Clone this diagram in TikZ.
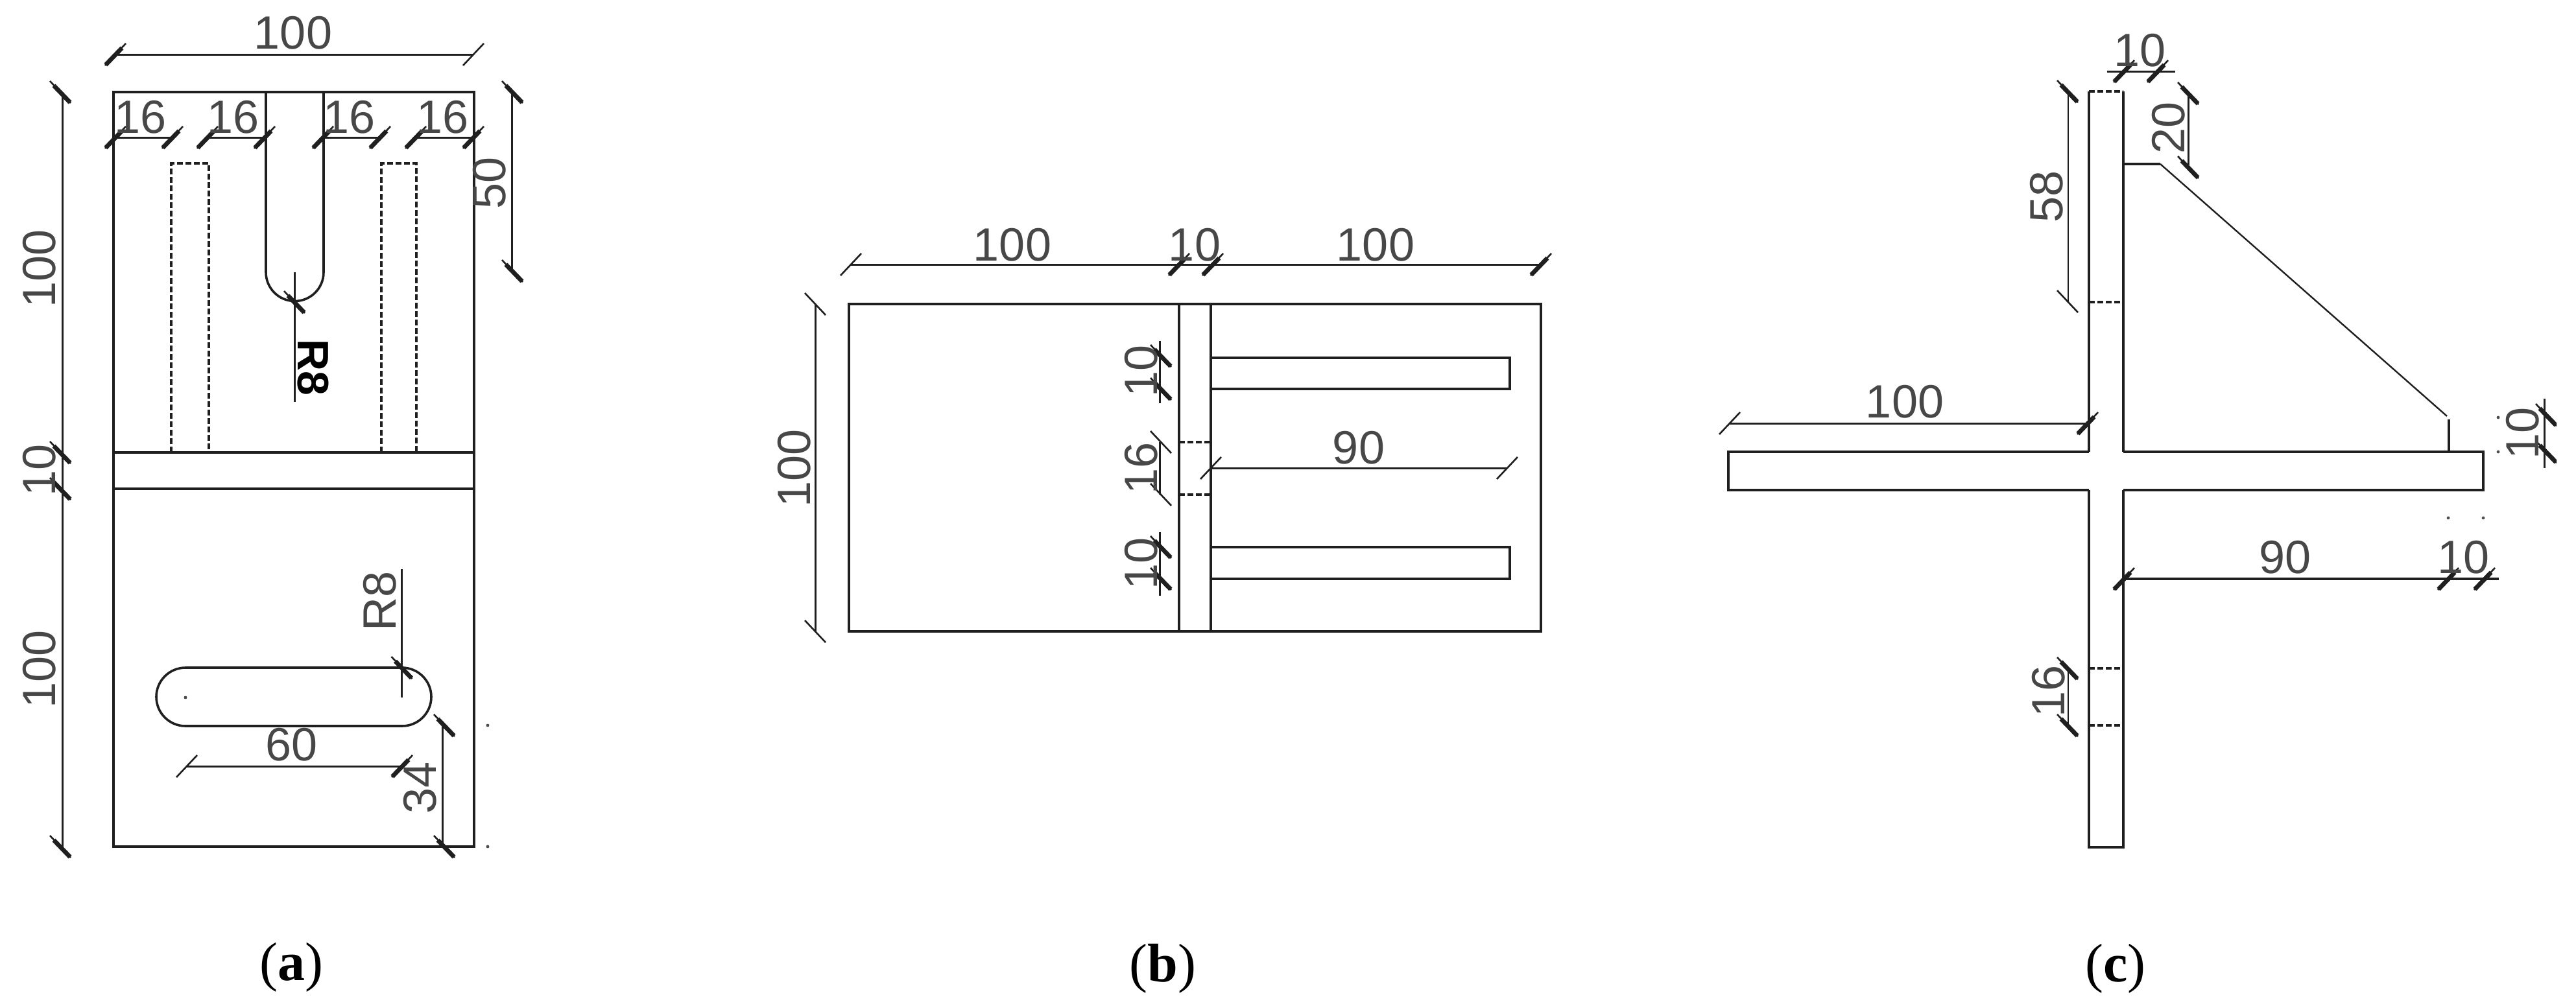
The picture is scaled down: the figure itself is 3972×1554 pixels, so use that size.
\documentclass[tikz,border=0pt]{standalone}
\usepackage{fontspec}
\setmainfont{Liberation Sans}
\newfontfamily\capfont{Liberation Serif}
\tikzset{
  obj/.style={line width=1.8pt,black!88},
  thinobj/.style={line width=1.2pt,black!88},
  midobj/.style={line width=1.6pt,black!88},
  hid/.style={line width=1.6pt,black!88,dash pattern=on 4.5pt off 2pt},
  dimln/.style={line width=1.5pt,black!88},
  tkthin/.style={line width=1.3pt,black!88},
  tkthick/.style={line width=3.4pt,black!88},
  dimtxt/.style={font=\fontsize{36}{36}\selectfont,text=black!72,inner sep=0pt},
  dimvert/.style={dimtxt,rotate=90},
  capt/.style={font=\capfont\fontsize{42}{42}\selectfont,inner sep=0pt}
}
% slash ticks for horizontal dims, backslash ticks for vertical dims; heavy ticks have a thin full stroke and a thick core
\newcommand{\tkh}[2]{\draw[tkthin] (#1-16,#2+17) -- (#1+16,#2-17); \draw[tkthick] (#1-15,#2+16) -- (#1+10,#2-10);}
\newcommand{\tkv}[2]{\draw[tkthin] (#1-16,#2-17) -- (#1+16,#2+17); \draw[tkthick] (#1-10,#2-10) -- (#1+15,#2+16);}
\newcommand{\tkht}[2]{\draw[tkthin] (#1-16,#2+17) -- (#1+16,#2-17);}
\newcommand{\tkvt}[2]{\draw[tkthin] (#1-16,#2-17) -- (#1+16,#2+17);}
\begin{document}
\begin{tikzpicture}[x=0.5pt,y=-0.5pt]
\useasboundingbox (0,0) rectangle (3972,1554);
%---------- panel a
\draw[obj] (175,142) rectangle (731,1306);
\draw[obj] (175,698) -- (731,698) (175,754) -- (731,754);
\draw[obj] (410,142) -- (410,420) arc[start angle=180,end angle=360,radius=22.25pt] -- (499,142);
\draw[hid] (264,698) -- (264,252) -- (322,252) -- (322,698);
\draw[hid] (588,698) -- (588,252) -- (642,252) -- (642,698);
\draw[obj] (286,1030) -- (620,1030) arc[start angle=90,end angle=-90,radius=22.5pt] -- (286,1120) arc[start angle=270,end angle=90,radius=22.5pt];
% overall dims
\draw[dimln] (178,84) -- (730,84); \tkh{178}{84} \tkht{730}{84}
\node[dimtxt] (a100t) at (452,51) {100};
\foreach \xa/\xb/\tx in {178/266/217,320/408/360,498/586/539,641/730/683}{
  \draw[dimln] (\xa,212) -- (\xb,212); \tkh{\xa}{212} \tkh{\xb}{212}
  \node[dimtxt] at (\tx,181) {16};
}
\draw[dimln] (96,142) -- (96,1306);
\tkv{93}{142} \tkv{93}{698} \tkv{93}{754} \tkv{93}{1306}
\node[dimvert] (a100u) at (61,414) {100};
\node[dimvert] (a10) at (61,725) {10};
\node[dimvert] (a100l) at (61,1032) {100};
\draw[dimln] (789,142) -- (789,418); \tkv{790}{142} \tkv{790}{418}
\node[dimvert] (a50) at (755,282) {50};
\draw[dimln] (454,420) -- (454,620); \tkv{454}{466}
\node[dimtxt,rotate=-90,text=black,font=\fontsize{34}{34}\selectfont\bfseries] (ar8u) at (483,567) {R8};
\draw[dimln] (619.5,878) -- (619.5,1076); \tkv{619.5}{1030}
\node[dimvert] (ar8l) at (586,927) {R8};
\draw[dimln] (288,1182) -- (620,1182); \tkht{288}{1182} \tkh{620}{1182}
\node[dimtxt] (a60) at (450,1149) {60};
\draw[dimln] (682,1119) -- (682,1306); \tkv{685}{1119} \tkv{685}{1306}
\node[dimvert] (a34) at (648,1215) {34};
\fill[black!70] (286,1076) circle[radius=1.2pt] (752,1119) circle[radius=1.2pt] (752,1306) circle[radius=1.2pt];
\node[capt] (capa) at (449,1492) {(\textbf{a})};
%---------- panel b
\draw[obj] (1309,469) rectangle (2376,974);
\draw[midobj] (1818,469) -- (1818,974) (1867,469) -- (1867,974);
\draw[obj] (1867,552) -- (2328,552) -- (2328,600) -- (1867,600);
\draw[obj] (1867,844) -- (2328,844) -- (2328,893) -- (1867,893);
\draw[hid] (1818,682) -- (1867,682) (1818,763) -- (1867,763);
\draw[dimln] (1312,408) -- (2376,408);
\tkht{1312}{408} \tkh{1818}{408} \tkh{1870}{408} \tkh{2376}{408}
\node[dimtxt] (b100a) at (1561,378) {100};
\node[dimtxt] (b10t) at (1842,378) {10};
\node[dimtxt] (b100b) at (2121,378) {100};
\draw[dimln] (1257,469) -- (1257,974); \tkvt{1257}{469} \tkvt{1257}{974}
\node[dimvert] (b100l) at (1225,722) {100};
\draw[dimln] (1788,526) -- (1788,622); \tkv{1790}{549} \tkv{1790}{600}
\node[dimvert] (b10a) at (1760,572) {10};
\draw[dimln] (1788,682) -- (1788,763); \tkvt{1790}{682} \tkvt{1790}{763}
\node[dimvert] (b16) at (1760,722) {16};
\draw[dimln] (1788,821) -- (1788,919); \tkv{1790}{844} \tkv{1790}{893}
\node[dimvert] (b10b) at (1760,869) {10};
\draw[dimln] (1867,722) -- (2324,722); \tkht{1867}{722} \tkht{2324}{722}
\node[dimtxt] (b90) at (2095,691) {90};
\node[capt] (capb) at (1793,1494) {(\textbf{b})};
%---------- panel c
\draw[obj] (3221,697) -- (2665,697) -- (2665,756) -- (3221,756);
\draw[obj] (3274,697) -- (3829,697) -- (3829,756) -- (3274,756);
\draw[midobj] (3221,697) -- (3221,141) (3274,697) -- (3274,141);
\draw[midobj] (3221,756) -- (3221,1307) -- (3274,1307) -- (3274,756);
\draw[hid] (3221,141) -- (3274,141) (3221,466) -- (3274,466) (3221,1031) -- (3274,1031) (3221,1119) -- (3274,1119);
\draw[midobj] (3274,253) -- (3331,253);
\draw[thinobj] (3331,253) -- (3773,642);
\draw[midobj] (3776,647) -- (3776,697);
\draw[dimln] (3249,110) -- (3354,110); \tkh{3275}{110} \tkh{3327}{110}
\node[dimtxt] (c10t) at (3299,78) {10};
\draw[dimln] (3374,144) -- (3374,258); \tkv{3374}{144} \tkv{3374}{258}
\node[dimvert] (c20) at (3344,197) {20};
\draw[thinobj] (3189,141) -- (3189,465); \tkv{3188}{141} \tkvt{3188}{465}
\node[dimvert] (c58) at (3156,303) {58};
\draw[dimln] (2667,653) -- (3219,653); \tkht{2667}{653} \tkh{3219}{653}
\node[dimtxt] (c100) at (2937,620) {100};
\draw[dimln] (3923,615) -- (3923,722);
\begin{scope}
\clip (3880,600) rectangle (3942,740);
\tkv{3926}{640} \tkv{3926}{697}
\end{scope}
\node[dimvert] (c10r) at (3890,668) {10};
\draw[dimln,line width=1.9pt] (3275,893) -- (3853,893); \tkh{3275}{893} \tkh{3775}{893} \tkh{3831}{893}
\node[dimtxt] (c90) at (3523,860) {90};
\node[dimtxt] (c10b) at (3798,860) {10};
\draw[thinobj] (3189,1031) -- (3189,1119); \tkv{3188}{1031} \tkv{3188}{1119}
\node[dimvert] (c16) at (3159,1066) {16};
\fill[black!70] (3775,799) circle[radius=1.2pt] (3829,799) circle[radius=1.2pt] (3852,644) circle[radius=1.2pt] (3852,697) circle[radius=1.2pt];
\node[capt] (capc) at (3262,1494) {(\textbf{c})};
\end{tikzpicture}
\end{document}
